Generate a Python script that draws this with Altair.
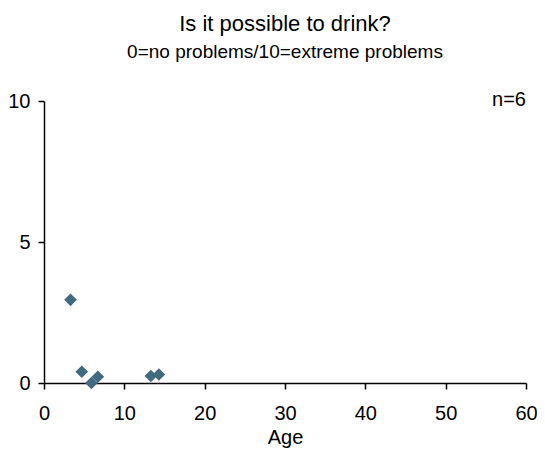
import altair as alt
import pandas as pd

# Data
ages = [3.3, 4.7, 5.9, 6.7, 13.3, 14.3]
scores = [2.95, 0.4, 0.0, 0.22, 0.25, 0.3]
x_ticks = [0, 10, 20, 30, 40, 50, 60]
y_ticks = [0, 5, 10]
n_label = ["n=6"]

FONT = "Liberation Sans"
COLOR = "#416a81"

df = pd.DataFrame({"Age": ages, "Score": scores})
note = pd.DataFrame({"x": [60], "y": [10], "t": n_label})

x_scale = alt.Scale(domain=[0, 60], nice=False, zero=True)
y_scale = alt.Scale(domain=[0, 10], nice=False)

points = alt.Chart(df).mark_point(
    shape="diamond", filled=True, size=160, color=COLOR, opacity=1
).encode(
    x=alt.X("Age:Q", scale=x_scale,
            axis=alt.Axis(values=x_ticks, title="Age", grid=False, labelFlush=False,
                          tickSize=6, labelPadding=14, titlePadding=4)),
    y=alt.Y("Score:Q", scale=y_scale,
            axis=alt.Axis(values=y_ticks, title=None, grid=False, labelFlush=False,
                          tickSize=6, labelPadding=8)),
)

text = alt.Chart(note).mark_text(
    align="right", baseline="middle", font=FONT, fontSize=20, color="black", dy=-1
).encode(
    x=alt.X("x:Q", scale=x_scale),
    y=alt.Y("y:Q", scale=y_scale),
    text="t:N",
)

chart = alt.layer(points, text).properties(
    width=482,
    height=282,
    autosize=alt.AutoSizeParams(type="none"),
    padding={"left": 36, "top": 93, "right": 11, "bottom": 65},
    title=alt.TitleParams(
        text="Is it possible to drink?",
        subtitle="0=no problems/10=extreme problems",
        font=FONT, subtitleFont=FONT,
        fontSize=22, subtitleFontSize=19,
        fontWeight="normal", color="black", subtitleColor="black",
        anchor="middle", offset=27, subtitlePadding=7,
    ),
).configure_view(stroke=None).configure_axis(
    domainColor="black", tickColor="black", domainWidth=1.5, tickWidth=1.5,
    labelFont=FONT, labelFontSize=20, labelColor="black",
    titleFont=FONT, titleFontSize=20, titleFontWeight="normal", titleColor="black",
)

chart.save("out.html", embed_options={"renderer": "svg", "actions": False})
